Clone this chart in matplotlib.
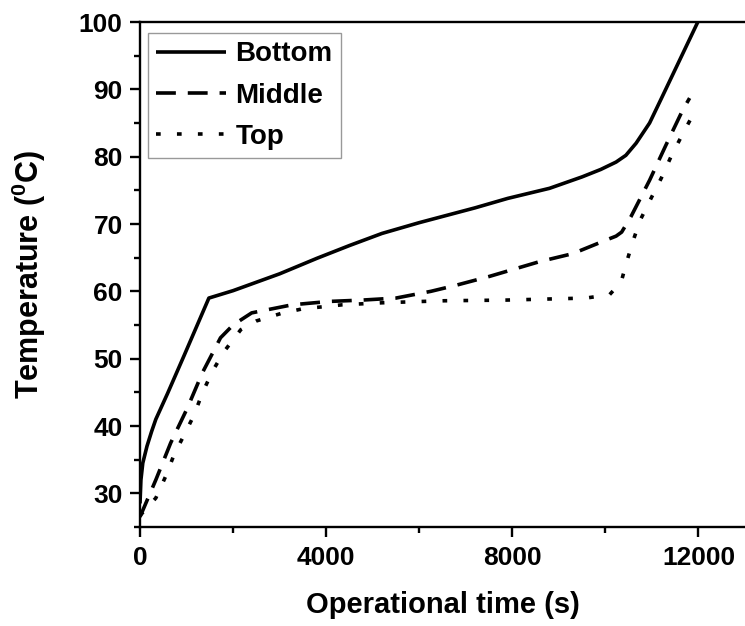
import matplotlib
matplotlib.use("Agg")
import matplotlib.pyplot as plt
from matplotlib.ticker import MultipleLocator

plt.rcParams['font.family'] = ['Liberation Sans', 'DejaVu Sans']
plt.rcParams['font.weight'] = 'bold'
plt.rcParams['mathtext.fontset'] = 'custom'
plt.rcParams['mathtext.rm'] = 'Liberation Sans:bold'
plt.rcParams['mathtext.bf'] = 'Liberation Sans:bold'

# Data
t_bottom = [0, 20, 60, 150, 250, 340, 590, 950, 1480, 2000, 2400, 3000, 3800, 4500, 5200, 6000, 6600,
            7200, 7900, 8800, 9500, 9900, 10230, 10440, 10660, 10950, 11200, 11600, 12000]
T_bottom = [28.5, 32.0, 34.5, 37.0, 39.2, 41.0, 44.8, 50.5, 59.0, 60.1, 61.1, 62.6, 64.9, 66.8, 68.6, 70.2, 71.3,
            72.4, 73.8, 75.3, 77.0, 78.1, 79.2, 80.2, 82.0, 85.0, 88.6, 94.4, 100.2]

t_middle = [0, 340, 660, 1020, 1340, 1730, 2000, 2400, 3270, 4065, 4775, 5500, 6250, 6790,
            7500, 8580, 9300, 10010, 10230, 10350, 10550, 10950, 11300, 11660, 11810]
T_middle = [26.5, 32.0, 37.5, 42.7, 47.9, 53.1, 55.0, 56.8, 58.0, 58.5, 58.7, 59.0, 60.0, 60.9,
            62.2, 64.4, 65.6, 67.6, 68.2, 68.8, 71.1, 76.5, 81.7, 86.9, 88.7]

t_top = [0, 340, 550, 730, 950, 1160, 1340, 1555, 1800, 2165, 2500, 3025, 3490, 4350, 5210,
         6070, 6540, 7860, 9580, 10090, 10340, 10450, 10600, 10750, 10980, 11200, 11410, 11640, 11880]
T_top = [26.7, 29.3, 32.5, 35.7, 38.7, 41.6, 44.9, 48.1, 51.0, 54.3, 55.6, 56.7, 57.4, 58.0, 58.3,
         58.5, 58.6, 58.7, 59.0, 59.5, 61.4, 64.2, 67.6, 70.6, 73.8, 76.8, 80.0, 83.1, 86.2]

labels = ['Bottom', 'Middle', 'Top']

fig = plt.figure(figsize=(7.45, 6.26), dpi=100)
ax = fig.add_axes([140/745, 1 - 527/626, 605/745, 505/626])

lw = 2.6
ax.plot(t_bottom, T_bottom, color='black', lw=lw, label=labels[0], solid_capstyle='butt',
        solid_joinstyle='round')
ax.plot(t_middle, T_middle, color='black', lw=lw, label=labels[1], dashes=(5.5, 3.3))
ax.plot(t_top, T_top, color='black', lw=lw, label=labels[2], dashes=(1.3, 4.5))

ax.set_xlim(0, 13000)
ax.set_ylim(25, 100)
ax.xaxis.set_major_locator(MultipleLocator(4000))
ax.xaxis.set_minor_locator(MultipleLocator(2000))
ax.yaxis.set_major_locator(MultipleLocator(10))
ax.yaxis.set_minor_locator(MultipleLocator(5))
ax.set_yticks([30, 40, 50, 60, 70, 80, 90, 100])

for s in ['left', 'bottom', 'top']:
    ax.spines[s].set_linewidth(1.7)
ax.spines['right'].set_visible(False)

ax.tick_params(which='major', direction='out', length=7.5, width=1.7, labelsize=19, pad=5)
ax.tick_params(axis='x', which='major', pad=6.5)
ax.tick_params(which='minor', direction='out', length=4, width=1.7)
ax.tick_params(top=False, right=False, which='both')
for lab in ax.get_xticklabels() + ax.get_yticklabels():
    lab.set_fontweight('bold')

ax.set_xlabel('Operational time (s)', fontsize=21, fontweight='bold', labelpad=15)
ax.set_ylabel(r'Temperature ($^{0}$C)', fontsize=22, fontweight='bold', labelpad=22)

leg = ax.legend(loc='upper left', bbox_to_anchor=(0.013, 0.978), borderaxespad=0,
                fancybox=False, framealpha=1, edgecolor='#999999',
                prop={'family': ['Liberation Sans'], 'weight': 'bold', 'size': 20},
                handlelength=2.5, handletextpad=0.35, labelspacing=0.55, borderpad=0.3)
leg.get_frame().set_linewidth(1.0)

fig.savefig('out.png', dpi=100, facecolor='white')
